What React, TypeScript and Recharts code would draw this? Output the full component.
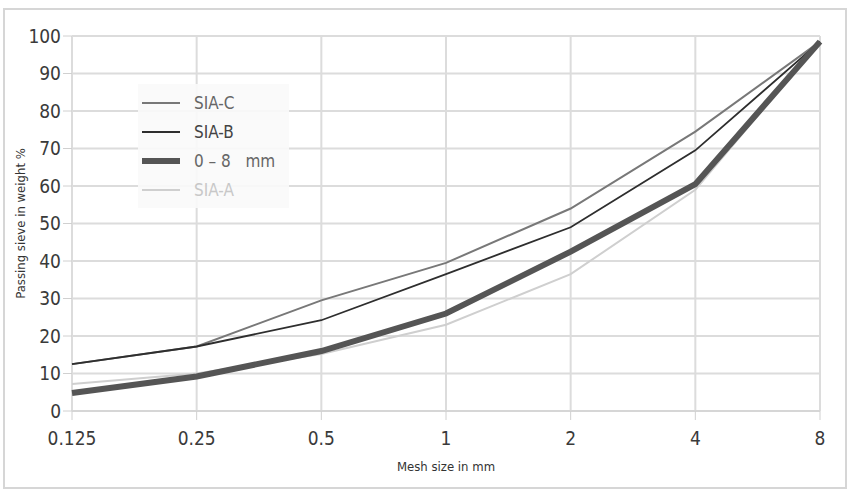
import { LineChart, Line, XAxis, YAxis, CartesianGrid } from 'recharts';

const meshSizes = ['0.125', '0.25', '0.5', '1', '2', '4', '8'];
const siaC = [12.5, 17.2, 29.5, 39.5, 54, 74.5, 98.5];
const siaB = [12.5, 17.2, 24.2, 36.5, 49, 69.5, 98.5];
const sand08 = [4.8, 9.2, 16, 26, 42.5, 60.5, 98.5];
const siaA = [7.2, 10, 15.2, 23, 36.5, 59, 98.5];
const yTicks = [0, 10, 20, 30, 40, 50, 60, 70, 80, 90, 100];

const data = meshSizes.map((size, i) => ({
  size,
  siaC: siaC[i],
  siaB: siaB[i],
  sand: sand08[i],
  siaA: siaA[i],
}));

const legendItems = [
  { label: 'SIA-C', color: '#787878', text: '#666', width: 2 },
  { label: 'SIA-B', color: '#2e2e2e', text: '#444', width: 2 },
  { label: '0 – 8\u00a0\u00a0 mm', color: '#555', text: '#666', width: 6 },
  { label: 'SIA-A', color: '#cfcfcf', text: '#c8c8c8', width: 2 },
];

const font = '"DejaVu Sans", sans-serif';
const tickStyle = { fill: '#3a3a3a', fontSize: 19, fontFamily: font, fontStretch: 'condensed' };

const GradingLegend = () => (
  <div
    style={{
      position: 'absolute',
      left: 138,
      top: 84,
      background: 'rgba(250,250,250,0.9)',
      padding: '4px 14px 4px 4px',
      fontFamily: font,
      fontStretch: 'condensed',
    }}
  >
    {legendItems.map((item) => (
      <div key={item.label} style={{ display: 'flex', alignItems: 'center', height: 29 }}>
        <div style={{ width: 38, height: item.width, background: item.color, marginRight: 14 }} />
        <span style={{ fontSize: 17, color: item.text }}>{item.label}</span>
      </div>
    ))}
  </div>
);

export default function App() {
  return (
    <div style={{ position: 'absolute', left: 0, top: 0, width: 848, height: 490, background: '#fff' }}>
      <div style={{ position: 'absolute', left: 3, top: 8, width: 840, height: 477, border: '2px solid #d6d6d6' }} />
      <LineChart
        width={848}
        height={490}
        data={data}
        margin={{ top: 36, right: 28, bottom: 13, left: 10 }}
      >
        <CartesianGrid stroke="#dcdcdc" strokeWidth={2} />
        <XAxis
          dataKey="size"
          height={66}
          stroke="#d0d0d0"
          tickLine={{ stroke: '#d0d0d0' }}
          tickSize={9}
          tickMargin={12}
          tick={tickStyle}
          label={{ value: 'Mesh size in mm', position: 'insideBottom', offset: 6, fill: '#333', fontSize: 13, fontFamily: font, style: { fontStretch: 'condensed' } }}
        />
        <YAxis
          domain={[0, 100]}
          ticks={yTicks}
          width={62}
          axisLine={false}
          tickLine={{ stroke: '#d0d0d0' }}
          tickSize={9}
          tick={tickStyle}
          label={{ value: 'Passing sieve in weight %', angle: -90, position: 'insideLeft', offset: 10, fill: '#333', fontSize: 13, fontFamily: font, style: { textAnchor: 'middle', fontStretch: 'condensed' } }}
        />
        <Line dataKey="siaA" stroke="#cfcfcf" strokeWidth={2} dot={false} isAnimationActive={false} />
        <Line dataKey="siaC" stroke="#787878" strokeWidth={2} dot={false} isAnimationActive={false} />
        <Line dataKey="siaB" stroke="#2e2e2e" strokeWidth={1.8} dot={false} isAnimationActive={false} />
        <Line dataKey="sand" stroke="#555" strokeWidth={6} dot={false} isAnimationActive={false} />
      </LineChart>
      <GradingLegend />
    </div>
  );
}
